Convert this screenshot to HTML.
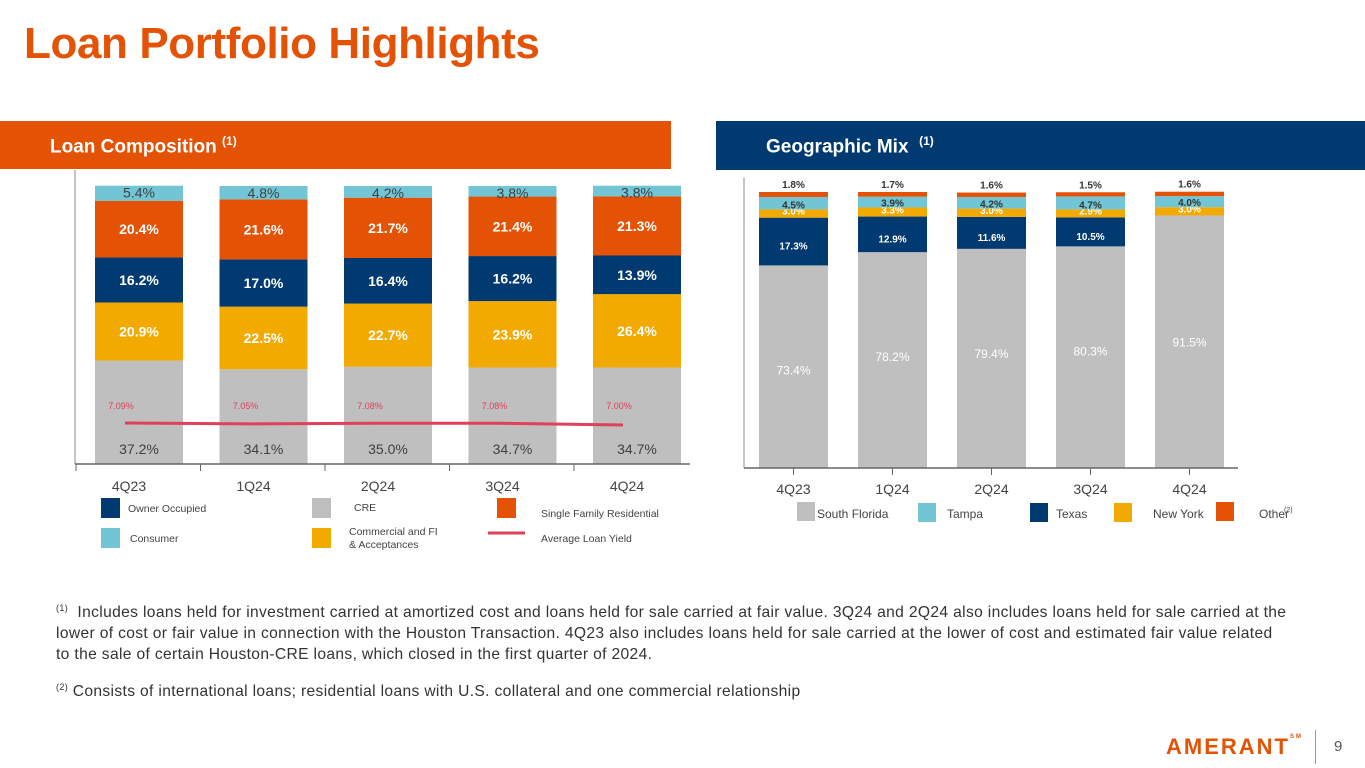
<!DOCTYPE html>
<html><head><meta charset="utf-8"><style>
body{margin:0;width:1365px;height:768px;overflow:hidden;background:#fff;font-family:"Liberation Sans",sans-serif;position:relative}
.abs{position:absolute}
</style></head><body>
<div class="abs" style="left:24px;top:19px;font-size:44px;font-weight:bold;color:#E35205;letter-spacing:-0.4px">Loan Portfolio Highlights</div>
<div class="abs" style="left:0;top:121px;width:671px;height:48px;background:#E35205"></div>
<div class="abs" style="left:50px;top:134px;color:#fff;font-size:19px;font-weight:bold">Loan Composition <sup style="font-size:12px">(1)</sup></div>
<div class="abs" style="left:716px;top:121px;width:649px;height:49px;background:#003A70"></div>
<div class="abs" style="left:766px;top:134px;color:#fff;font-size:19px;font-weight:bold">Geographic Mix &nbsp;<sup style="font-size:12px">(1)</sup></div>

<svg class="abs" style="left:0;top:0" width="1365" height="768" id="charts"></svg>

<div class="abs" style="left:56px;top:598px;white-space:nowrap;font-size:15.6px;line-height:21px;color:#333;letter-spacing:0.35px"><sup style="font-size:9px">(1)</sup>&nbsp; Includes loans held for investment carried at amortized cost and loans held for sale carried at fair value. 3Q24 and 2Q24 also includes loans held for sale carried at the<br>lower of cost or fair value in connection with the Houston Transaction. 4Q23 also includes loans held for sale carried at the lower of cost and estimated fair value related<br>to the sale of certain Houston-CRE loans, which closed in the first quarter of 2024.</div>
<div class="abs" style="left:56px;top:682px;font-size:15.6px;color:#333;letter-spacing:0.35px"><sup style="font-size:9px">(2)</sup> Consists of international loans; residential loans with U.S. collateral and one commercial relationship</div>
<div class="abs" style="left:1166px;top:734px;font-size:22px;font-weight:bold;color:#E35205;letter-spacing:2px">AMERANT<span style="font-size:6px;vertical-align:top">SM</span></div>
<div class="abs" style="left:1315px;top:730px;width:1px;height:34px;background:#999"></div>
<div class="abs" style="left:1334px;top:738px;font-size:15px;color:#555">9</div>

<script>
const quarters=["4Q23","1Q24","2Q24","3Q24","4Q24"];
const cre=[37.2,34.1,35.0,34.7,34.7];
const commercial=[20.9,22.5,22.7,23.9,26.4];
const ownerOcc=[16.2,17.0,16.4,16.2,13.9];
const sfr=[20.4,21.6,21.7,21.4,21.3];
const consumer=[5.4,4.8,4.2,3.8,3.8];
const yieldVals=[7.09,7.05,7.08,7.08,7.00];
const soFla=[73.4,78.2,79.4,80.3,91.5];
const texas=[17.3,12.9,11.6,10.5,0];
const newYork=[3.0,3.3,3.0,2.9,3.0];
const tampa=[4.5,3.9,4.2,4.7,4.0];
const other=[1.8,1.7,1.6,1.5,1.6];

const svg=document.getElementById('charts');
const NS='http://www.w3.org/2000/svg';
function mk(tag,attrs,name,inter){const e=document.createElementNS(NS,tag);for(const k in attrs)e.setAttribute(k,attrs[k]);


svg.appendChild(e);return e;}
function txt(x,y,s,opt,name){const t=mk('text',Object.assign({x:x,y:y,'text-anchor':'middle','font-family':'Liberation Sans, sans-serif'},opt),name,false);t.textContent=s;return t;}

// LEFT chart
const L={x0:95,step:124.5,w:88,base:464,scale:2.78};
const lx=i=>L.x0+i*L.step;
const ly=v=>L.base-v*L.scale;
const lSeries=[[cre,'#BFBFBF','#404040','cre'],[commercial,'#F2A900','#fff','commercial'],[ownerOcc,'#003A70','#fff','owner-occupied'],[sfr,'#E35205','#fff','sfr'],[consumer,'#71C5D5','#404040','consumer']];
quarters.forEach((q,i)=>{let cum=0;
 lSeries.forEach(([arr,col,tc,nm],k)=>{const v=arr[i];const y0=ly(cum),y1=ly(cum+v);
  mk('rect',{x:lx(i),y:y1,width:L.w,height:y0-y1,fill:col},'bar-'+nm+'-'+q,true);
  let ty=(y0+y1)/2+5;
  if(k===0) ty=y0-10;
  if(k===4) ty=y1+12;
  txt(lx(i)+L.w/2,ty,v.toFixed(1)+'%',{fill:tc,'font-size':14,'font-weight':k===0||k===4?'normal':'bold'},'label-'+nm+'-'+q);
  cum+=v;});
});
mk('line',{x1:75,y1:170,x2:75,y2:464,stroke:'#888','stroke-width':1},'left-y-axis',false);
mk('line',{x1:75,y1:464,x2:690,y2:464,stroke:'#666','stroke-width':1.5},'left-x-axis',false);
quarters.forEach((q,i)=>{const tx=76+i*124.5;mk('line',{x1:tx,y1:464,x2:tx,y2:471,stroke:'#666'},'left-tick-'+q,false);
 txt(lx(i)+L.w/2-10,491,q,{fill:'#444','font-size':14},'left-x-label-'+q);});
const yy=v=>425-(v-7.0)*22;
let pts=yieldVals.map((v,i)=>(lx(i)+L.w/2-14)+','+yy(v)).join(' ');
mk('polyline',{points:pts,fill:'none',stroke:'#E0405A','stroke-width':3},'average-loan-yield-line',false);
yieldVals.forEach((v,i)=>txt(lx(i)+L.w/2-18,409,v.toFixed(2)+'%',{fill:'#E0405A','font-size':9},'yield-label-'+quarters[i]));
// left legend
const leg=[[101,498,'#003A70','Owner Occupied',128,512],[101,528,'#71C5D5','Consumer',130,542],[312,498,'#BFBFBF','CRE',354,511],[312,528,'#F2A900','Commercial and FI',349,535],[497,498,'#E35205','Single Family Residential',541,517]];
leg.forEach(([x,y,c,s,tx,ty])=>{mk('rect',{x:x,y:y,width:19,height:20,fill:c},'legend-swatch-'+s.toLowerCase().replace(/ /g,'-'),false);
 txt(tx,ty,s,{fill:'#444','font-size':10.5,'text-anchor':'start'},'legend-label-'+s.toLowerCase().replace(/ /g,'-'));});
txt(349,548,'& Acceptances',{fill:'#444','font-size':10.5,'text-anchor':'start'},'legend-label-acceptances');
mk('line',{x1:488,y1:533,x2:525,y2:533,stroke:'#E0405A','stroke-width':3},'legend-swatch-average-loan-yield',false);
txt(541,542,'Average Loan Yield',{fill:'#444','font-size':10.5,'text-anchor':'start'},'legend-label-average-loan-yield');

// RIGHT chart
const R={x0:759,step:99,w:69,base:468,scale:2.76};
const rx=i=>R.x0+i*R.step;
const ry=v=>R.base-v*R.scale;
const rSeries=[[soFla,'#BFBFBF','#fff','south-florida'],[texas,'#003A70','#fff','texas'],[newYork,'#F2A900','#fff','new-york'],[tampa,'#71C5D5','#333','tampa'],[other,'#E35205','#333','other']];
quarters.forEach((q,i)=>{let cum=0;
 rSeries.forEach(([arr,col,tc,nm],k)=>{const v=arr[i];const y0=ry(cum),y1=ry(cum+v);
  if(v>0){mk('rect',{x:rx(i),y:y1,width:R.w,height:y0-y1,fill:col},'bar-'+nm+'-'+q,true);
  let ty=(y0+y1)/2+4, fs=10;
  if(k===0){ty=y1+(i===4?131:109);fs=12;}
  if(k===1){ty=(y0+y1)/2+8;}
  if(k===2) ty=y0-3;
  if(k===3) ty=y0-1;
  if(k===4) ty=y1-4;
  txt(rx(i)+R.w/2,ty,v.toFixed(1)+'%',{fill:k===4?'#333':tc,'font-size':fs,'font-weight':k===0?'normal':'bold'},'label-'+nm+'-'+q);}
  cum+=v;});
});
mk('line',{x1:744,y1:178,x2:744,y2:468,stroke:'#888'},'right-y-axis',false);
mk('line',{x1:744,y1:468,x2:1238,y2:468,stroke:'#666','stroke-width':1.5},'right-x-axis',false);
quarters.forEach((q,i)=>{mk('line',{x1:rx(i)+R.w/2,y1:468,x2:rx(i)+R.w/2,y2:475,stroke:'#666'},'right-tick-'+q,false);
 txt(rx(i)+R.w/2,494,q,{fill:'#444','font-size':14},'right-x-label-'+q);});
const rleg=[[797,502,'#BFBFBF','South Florida',817],[918,503,'#71C5D5','Tampa',947],[1030,503,'#003A70','Texas',1056],[1114,503,'#F2A900','New York',1153],[1216,502,'#E35205','Other',1259]];
rleg.forEach(([x,y,c,s,tx])=>{mk('rect',{x:x,y:y,width:18,height:19,fill:c},'legend-swatch-'+s.toLowerCase().replace(/ /g,'-'),false);
 txt(tx,518,s,{fill:'#444','font-size':12,'text-anchor':'start'},'legend-label-'+s.toLowerCase().replace(/ /g,'-'));});
txt(1284,512,'(2)',{fill:'#444','font-size':7,'text-anchor':'start'},'legend-other-footnote');
</script>
</body></html>
